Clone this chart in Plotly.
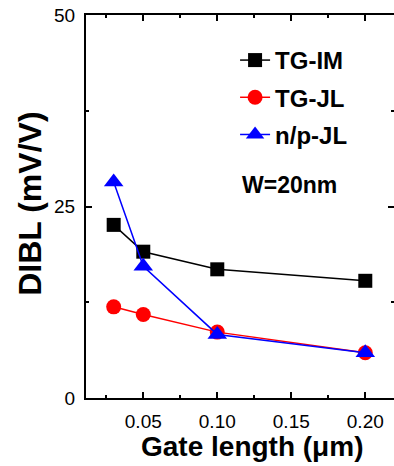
import plotly.graph_objects as go

gate_length = [0.03, 0.05, 0.10, 0.20]
tg_im = [22.6, 19.1, 16.8, 15.3]
tg_jl = [11.9, 10.9, 8.6, 5.9]
np_jl = [28.2, 17.2, 8.3, 5.9]

series_names = ["TG-IM", "TG-JL", "n/p-JL"]
series_values = [tg_im, tg_jl, np_jl]
colors = ["#000000", "#FF0000", "#0000FF"]
symbols = ["square", "circle", "triangle-up"]
sizes = [14, 15, 17]

fig = go.Figure()
for i, (name, vals) in enumerate(zip(series_names, series_values)):
    fig.add_trace(go.Scatter(
        x=gate_length, y=vals, name=name, mode="lines+markers",
        line=dict(color=colors[i], width=1.5),
        marker=dict(symbol=symbols[i], size=sizes[i], color=colors[i]),
        legendgroup=name,
    ))

font_family = "Liberation Sans, Arial, sans-serif"
axis_common = dict(
    showline=True, linecolor="black", linewidth=2, mirror="ticks",
    ticks="inside", ticklen=6, tickwidth=2, tickcolor="black",
    showgrid=False, zeroline=False, automargin=False,
    ticklabeloverflow="allow",
    tickfont=dict(family=font_family, size=19, color="black"),
)

fig.update_xaxes(
    range=[0.0113, 0.2194], tick0=0.05, dtick=0.05, tickformat=".2f",
    minor=dict(ticks="inside", ticklen=3, tickwidth=2, dtick=0.025, tick0=0.0, tickcolor="black"),
    ticklabelstandoff=5,
    **axis_common,
)
fig.update_yaxes(
    range=[0, 50], tick0=0, dtick=25,
    minor=dict(ticks="inside", ticklen=3, tickwidth=2, dtick=12.5, tick0=0, tickcolor="black"),
    ticklabelstandoff=5,
    **axis_common,
)

# axis titles
fig.add_annotation(
    x=0.539, y=-0.127, xref="paper", yref="paper", xanchor="center", yanchor="middle",
    text="<b>Gate length (μm)</b>", showarrow=False,
    font=dict(family=font_family, size=28, color="black"),
)
fig.add_annotation(
    x=-0.182, y=0.507, xref="paper", yref="paper", xanchor="center", yanchor="middle",
    text="<b>DIBL (mV/V)</b>", showarrow=False, textangle=-90,
    font=dict(family=font_family, size=32, color="black"),
)

fig.add_annotation(
    x=0.149, y=27.8, xref="x", yref="y", text="<b>W=20nm</b>", showarrow=False,
    font=dict(family=font_family, size=23, color="black"),
)

fig.update_layout(
    width=394, height=466,
    margin=dict(l=86, r=0, t=15, b=68),
    plot_bgcolor="white", paper_bgcolor="white",
    font=dict(family=font_family, color="black"),
    legend=dict(
        x=0.484, y=0.940, xanchor="left", yanchor="top",
        font=dict(family=font_family, size=24, color="black", weight="bold"),
        bgcolor="rgba(0,0,0,0)", tracegroupgap=3, itemsizing="trace",
    ),
)

fig.write_html("out.html", config={"displayModeBar": False},
               post_script="document.body.style.margin='0';")
